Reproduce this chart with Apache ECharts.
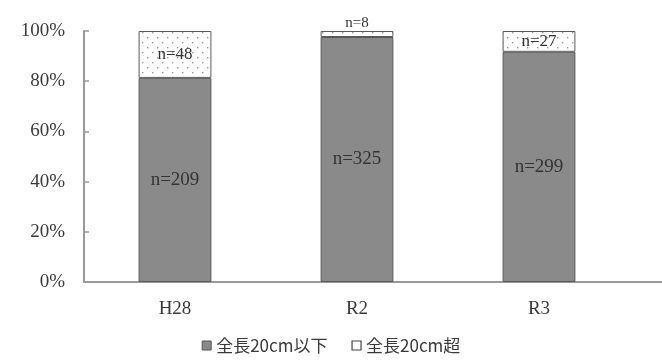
<!DOCTYPE html>
<html><head><meta charset="utf-8">
<script src="https://cdn.jsdelivr.net/npm/echarts@6/dist/echarts.min.js"></script>
<style>html,body{margin:0;padding:0;background:#fff}#c{width:662px;height:362px}</style>
</head><body><div id="c"></div>
<script>
const categories = ['H28', 'R2', 'R3'];
const countBelow = [209, 325, 299];
const countAbove = [48, 8, 27];
const seriesNames = ['全長20cm以下', '全長20cm超'];
const yTicks = [0, 20, 40, 60, 80, 100];

const pctBelow = countBelow.map((v, i) => v / (v + countAbove[i]) * 100);
const pctAbove = countAbove.map((v, i) => v / (countBelow[i] + v) * 100);

const pc = document.createElement('canvas');
pc.width = 10; pc.height = 10;
const g = pc.getContext('2d');
g.fillStyle = '#ffffff'; g.fillRect(0, 0, 10, 10);
g.fillStyle = '#9a9a9a';
g.fillRect(2, 2, 1.4, 1.4);
g.fillRect(7, 7, 1.4, 1.4);

const font = '"Liberation Serif", "Times New Roman", serif';
const chart = echarts.init(document.getElementById('c'));
chart.setOption({
  animation: false,
  grid: { left: 84, right: 32, top: 31, bottom: 80 },
  legend: {
    bottom: 3, left: 'center', itemWidth: 9, itemHeight: 9, itemGap: 24,
    textStyle: { fontFamily: '"Noto Sans CJK JP", sans-serif', fontSize: 17, color: '#3a3a3a' },
    data: [
      { name: seriesNames[0], icon: 'rect', itemStyle: { color: '#8a8a8a', borderColor: '#555', borderWidth: 1 } },
      { name: seriesNames[1], icon: 'rect', itemStyle: { color: '#fff', borderColor: '#444', borderWidth: 1.2 } }
    ]
  },
  xAxis: {
    type: 'category', data: categories,
    axisLine: { lineStyle: { color: '#9a9a9a', width: 2 } },
    axisTick: { show: false },
    axisLabel: { fontFamily: font, fontSize: 19, color: '#3a3a3a', margin: 18 }
  },
  yAxis: {
    type: 'value', min: 0, max: 100, interval: 20,
    axisLine: { show: true, lineStyle: { color: '#9a9a9a', width: 2 } },
    axisTick: { show: true, inside: true, length: 5, lineStyle: { color: '#9a9a9a', width: 1.5 } },
    splitLine: { show: false },
    axisLabel: { fontFamily: font, fontSize: 19, color: '#3a3a3a', margin: 19,
      formatter: v => yTicks.includes(v) ? v + '%' : '' }
  },
  graphic: [{ type: 'line', shape: { x1: 630, y1: 282, x2: 662, y2: 282 }, style: { stroke: '#9a9a9a', lineWidth: 2 } }],
  series: [
    {
      name: seriesNames[0], type: 'bar', stack: 's', barWidth: '40%',
      data: pctBelow,
      itemStyle: { color: '#8a8a8a', borderColor: '#5a5a5a', borderWidth: 1 },
      label: { show: true, position: 'inside', fontFamily: font, fontSize: 19, color: '#333',
        formatter: p => 'n=' + countBelow[p.dataIndex] }
    },
    {
      name: seriesNames[1], type: 'bar', stack: 's', barWidth: '40%',
      data: pctAbove.map((v, i) => ({
        value: v,
        label: countAbove[i] < 15 ? { position: 'top', distance: 0, fontSize: 15 } : {}
      })),
      itemStyle: { color: { image: pc, repeat: 'repeat' }, borderColor: '#5a5a5a', borderWidth: 1 },
      label: { show: true, position: 'inside', fontFamily: font, fontSize: 17, color: '#333',
        formatter: p => 'n=' + countAbove[p.dataIndex] }
    }
  ]
});
</script></body></html>
